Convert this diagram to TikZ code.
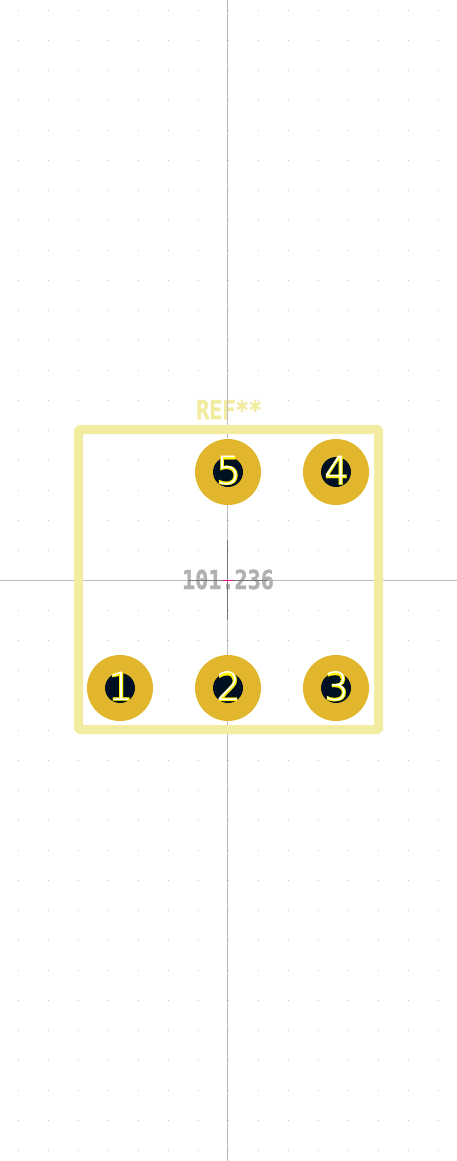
\documentclass[tikz,border=0pt]{standalone}
\usepackage{graphicx}
\usepackage{fontspec}
\setmainfont{DejaVu Sans}
\newfontfamily\monob[FakeBold=1.2]{DejaVu Sans Mono Bold}
\newfontfamily\numfont[FakeBold=0.6]{DejaVu Sans}
\newfontfamily\numlight{DejaVu Sans ExtraLight}
\definecolor{padgold}{HTML}{E2B62C}
\definecolor{silk}{HTML}{F2ECA0}
\definecolor{holeink}{HTML}{001023}
\definecolor{axisgrey}{HTML}{BCBCBC}
\definecolor{markgrey}{HTML}{777777}
\definecolor{valgrey}{HTML}{B0B0B0}
\definecolor{griddot}{HTML}{C4C4C4}
\tikzset{
  padring/.style={circle,fill=padgold,minimum size=66pt,inner sep=0pt},
  padhole/.style={circle,fill=holeink,minimum size=30pt,inner sep=0pt},
  padnumy/.style={inner sep=0pt,text=yellow,font=\numfont\fontsize{39}{39}\selectfont},
  padnumw/.style={inner sep=0pt,text=white,font=\numlight\fontsize{39}{39}\selectfont},
  axisline/.style={draw=axisgrey,line width=1pt},
  markline/.style={draw=markgrey,line width=1pt},
  silkline/.style={draw=silk,line width=9pt,rounded corners=1.5pt},
  stroketext/.style={inner sep=0pt,font=\monob\fontsize{21.8}{22}\selectfont}
}
\newcommand{\tallish}[1]{\scalebox{1}[1.2]{#1}}
\begin{document}
\begin{tikzpicture}[x=1pt,y=-1pt]
\useasboundingbox (0,0) rectangle (457,1161);
\fill[white] (0,0) rectangle (457,1161);
% grid dots
\foreach \i in {0,...,14}{
  \foreach \j in {0,...,38}{
    \fill[griddot] ({18+30*\i},{10+30*\j}) rectangle ++(1,1);
  }
}
% reference text
\node[stroketext,text=silk] (refdes) at (229,409.5) {\tallish{REF**}};
% axes
\coordinate (axt) at (227.5,0);
\coordinate (axb) at (227.5,1161);
\coordinate (axl) at (0,580.5);
\coordinate (axr) at (457,580.5);
\draw[axisline] (axt) -- (axb);
\draw[axisline] (axl) -- (axr);
% value text
\node[stroketext,text=valgrey] (value) at (228,579.5) {\tallish{101.236}};
% centre marks
\draw[markline] (227.5,540) -- (227.5,620);
\draw[markline] (188,580.5) -- (268,580.5);
\draw[draw=magenta,line width=1.4pt] (222.5,580.5) -- (233,580.5);
% frame
\draw[silkline] (78.5,429.5) rectangle (378.5,729.5);
% pads
\foreach \nm/\px/\py in {1/120/688,2/228/688,3/336/688,4/336/472,5/228/472}{
  \node[padring] (ring\nm) at (\px,\py) {};
  \node[padhole] (hole\nm) at (\px,\py) {};
  \node[padnumy] (numy\nm) at (\px+0.5,\py-1.5) {\nm};
  \node[padnumw] (numw\nm) at (\px+0.5,\py-1.5) {\nm};
}
\end{tikzpicture}
\end{document}
